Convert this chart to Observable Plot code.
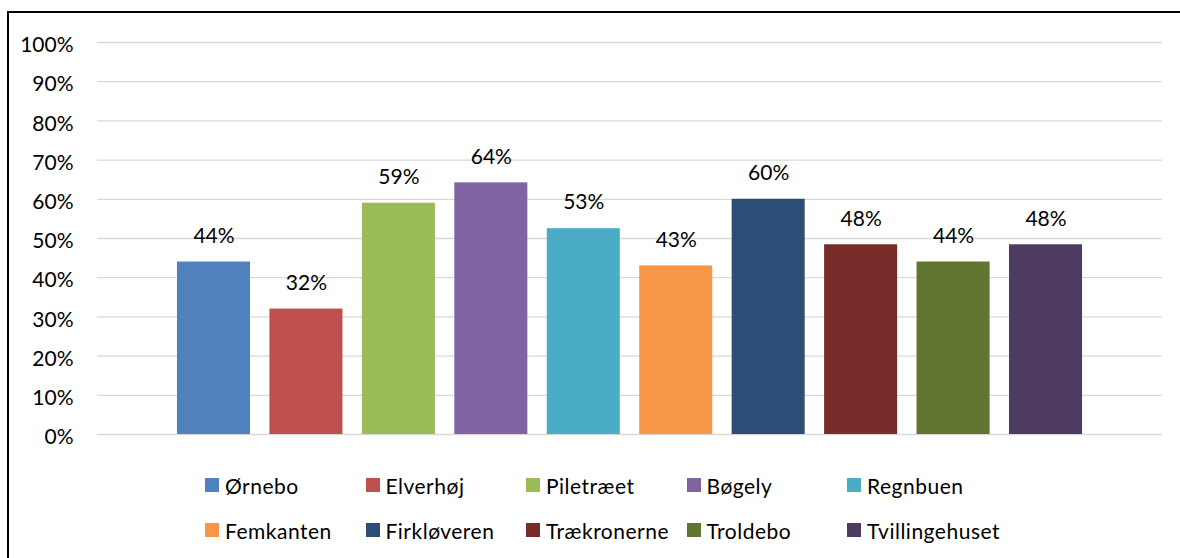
<!DOCTYPE html>
<html>
<head>
<meta charset="utf-8">
<script src="https://cdn.jsdelivr.net/npm/d3@7"></script>
<script src="https://cdn.jsdelivr.net/npm/@observablehq/plot@0.6"></script>
<style>
  html, body { margin: 0; padding: 0; width: 1180px; height: 558px; overflow: hidden; background: #fff; }
  body { position: relative; font-family: Lato, "Open Sans", sans-serif; }
  #frame { position: absolute; left: 7px; top: 11px; width: 1300px; height: 700px; border: 2px solid #000; box-sizing: border-box; }
  #chart { position: absolute; left: 0; top: 0; }
  #legend { position: absolute; left: 205px; top: 471px; display: grid;
    grid-template-columns: repeat(5, 160.5px); row-gap: 17px; font-size: 21px; letter-spacing: 0.5px; color: #000; }
  .item { display: flex; align-items: center; height: 28px; white-space: nowrap; }
  .sw { width: 14px; height: 14px; margin-right: 6px; flex: none; }
</style>
</head>
<body>
<div id="frame"></div>
<div id="chart"></div>
<div id="legend"></div>
<script>
const categories = ["Ørnebo", "Elverhøj", "Piletræet", "Bøgely", "Regnbuen", "Femkanten", "Firkløveren", "Trækronerne", "Troldebo", "Tvillingehuset"];
const values = [0.44, 0.32, 0.59, 0.642, 0.525, 0.43, 0.60, 0.484, 0.44, 0.484];
const colors = ["#4F81BD", "#C0504D", "#9BBB59", "#8064A2", "#4BACC6", "#F79646", "#2C4D75", "#772C2A", "#5F7530", "#4D3B62"];
const yTicks = [0, 0.1, 0.2, 0.3, 0.4, 0.5, 0.6, 0.7, 0.8, 0.9, 1.0];

const data = categories.map((name, i) => ({name, value: values[i]}));
const pct = d3.format(".0%");

const chart = Plot.plot({
  width: 1180,
  height: 460,
  marginLeft: 97,
  marginRight: 18,
  marginTop: 42,
  marginBottom: 26,
  style: {fontFamily: "Lato, 'Open Sans', sans-serif", fontSize: "21px", color: "#000", background: "transparent"},
  x: {domain: categories, paddingInner: 0.21, paddingOuter: 0.865, round: false, axis: null},
  y: {domain: [0, 1], ticks: yTicks, tickFormat: pct, label: null},
  color: {domain: categories, range: colors},
  marks: [
    Plot.gridY(yTicks, {stroke: "#D9D9D9", strokeOpacity: 1, strokeWidth: 1.3}),
    Plot.axisY(yTicks, {tickSize: 0, tickPadding: 24, tickFormat: pct, dy: 3, label: null, fontSize: 21}),
    Plot.barY(data, {x: "name", y: "value", fill: "name"}),
    Plot.text(data, {x: "name", y: "value", text: d => pct(d.value), dy: -26, fontSize: 21, fill: "#000"})
  ]
});
document.getElementById("chart").appendChild(chart);

const legend = document.getElementById("legend");
categories.forEach((name, i) => {
  const item = document.createElement("div");
  item.className = "item";
  const sw = document.createElement("span");
  sw.className = "sw";
  sw.style.background = colors[i];
  const t = document.createElement("span");
  t.textContent = name;
  item.appendChild(sw);
  item.appendChild(t);
  legend.appendChild(item);
});
</script>
</body>
</html>
